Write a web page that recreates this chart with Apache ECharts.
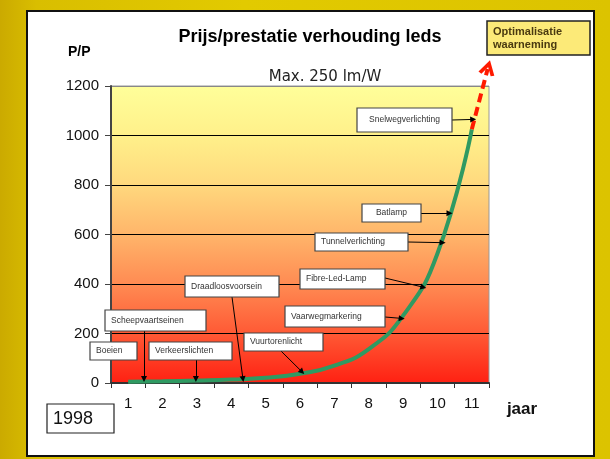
<!DOCTYPE html>
<html><head><meta charset="utf-8">
<script src="https://cdn.jsdelivr.net/npm/echarts@6/dist/echarts.min.js"></script>
<style>
html,body{margin:0;padding:0;}
#c{width:610px;height:459px;background:linear-gradient(to right,#CBAA00 0%,#D9BE00 6%,#E2CA00 40%,#DCC300 100%);}
</style>
</head><body><div id="c"></div>
<script>
// ---- data ----
const years = ['1','2','3','4','5','6','7','8','9','10','11'];
const curveX = [1,2,3,4,5,6,7,8,9,10,11];
const curveY = [5,7,10,14,21,37,70,137,272,523,1025];
const projX = [11, 11.46];
const projY = [1025, 1269];
const yMin = 0, yMax = 1200, yStep = 200;
const labelTexts = ['Snelwegverlichting','Batlamp','Tunnelverlichting','Fibre-Led-Lamp','Vaarwegmarkering','Vuurtorenlicht','Draadloosvoorsein','Scheepvaartseinen','Boeien','Verkeerslichten'];
const labelTargetX = [11.04, 10.35, 10.15, 9.59, 8.96, 6.06, 4.34, 1.46, null, 2.97];
const labelTargetY = [1065, 686, 567, 387, 261, 45, 16, 16, null, 16];

// ---- layout (pixels) ----
const boxLayout = [
  {x:357,y:108,w:95,h:24,center:true, ax:452,ay:120},
  {x:362,y:204,w:59,h:18,center:true, ax:421,ay:213},
  {x:315,y:233,w:93,h:18, ax:408,ay:242},
  {x:300,y:269,w:85,h:20, ax:385,ay:278},
  {x:285,y:306,w:100,h:21, ax:385,ay:317},
  {x:244,y:333,w:79,h:18, ax:280,ay:350},
  {x:185,y:276,w:94,h:21, ax:232,ay:297},
  {x:105,y:310,w:101,h:21, ax:144,ay:331},
  {x:90,y:342,w:47,h:18},
  {x:149,y:342,w:83,h:18, ax:196,ay:360}
];

const chart = echarts.init(document.getElementById('c'), null, {renderer:'canvas'});

const graphics = [];
graphics.push({type:'rect', z:-10, silent:true, shape:{x:27,y:11,width:567,height:445}, style:{fill:'#ffffff', stroke:'#111', lineWidth:2}});
graphics.push({type:'text', z:20, x:310, y:37, style:{text:'Prijs/prestatie verhouding leds', font:'bold 18px "Liberation Sans"', fill:'#000', align:'center', verticalAlign:'middle'}});
graphics.push({type:'text', z:20, x:68, y:52, style:{text:'P/P', font:'bold 14px "Liberation Sans"', fill:'#000', align:'left', verticalAlign:'middle'}});
graphics.push({type:'text', z:20, x:325, y:77, style:{text:'Max. 250 lm/W', font:'15px "DejaVu Sans"', fill:'#222', align:'center', verticalAlign:'middle'}});
graphics.push({type:'text', z:20, x:522, y:409, style:{text:'jaar', font:'bold 17px "Liberation Sans"', fill:'#111', align:'center', verticalAlign:'middle'}});
graphics.push({type:'rect', z:20, shape:{x:47,y:404,width:67,height:29}, style:{fill:'#fff', stroke:'#222', lineWidth:1.2}});
graphics.push({type:'text', z:21, x:53, y:419, style:{text:'1998', font:'18px "Liberation Sans"', fill:'#111', align:'left', verticalAlign:'middle'}});
graphics.push({type:'rect', z:20, shape:{x:487,y:21,width:103,height:34}, style:{fill:'#FCEA78', stroke:'#222', lineWidth:1.5}});
graphics.push({type:'text', z:21, x:493, y:32, style:{text:'Optimalisatie', font:'bold 11px "Liberation Sans"', fill:'#4A3A10', align:'left', verticalAlign:'middle'}});
graphics.push({type:'text', z:21, x:493, y:45, style:{text:'waarneming', font:'bold 11px "Liberation Sans"', fill:'#4A3A10', align:'left', verticalAlign:'middle'}});

const markData = [];
labelTexts.forEach((t,i)=>{
  const b = boxLayout[i];
  graphics.push({type:'rect', z:20, shape:{x:b.x,y:b.y,width:b.w,height:b.h}, style:{fill:'#fff', stroke:'#444', lineWidth:1.2}});
  graphics.push({type:'text', z:21, x: b.center ? b.x + b.w/2 : b.x + 6, y: b.y + b.h/2,
    style:{text:t, font:'8.5px "Liberation Sans"', fill:'#333', align: b.center?'center':'left', verticalAlign:'middle'}});
  if (labelTargetX[i] != null) {
    markData.push([{x:b.ax, y:b.ay}, {coord:[labelTargetX[i], labelTargetY[i]]}]);
  }
});

const option = {
  animation:false,
  grid:{left:111, right:121, top:86, bottom:76, show:true, borderColor:'#999', borderWidth:1,
    backgroundColor:{type:'linear', x:0, y:0, x2:0, y2:1, colorStops:[
      {offset:0, color:'#FFFF9A'},
      {offset:0.17, color:'#FFF08A'},
      {offset:0.33, color:'#FFD97E'},
      {offset:0.5, color:'#FFB56A'},
      {offset:0.67, color:'#FF8A52'},
      {offset:0.83, color:'#FF5A35'},
      {offset:1, color:'#FF2012'}]}},
  xAxis:[
    {type:'category', data:years, boundaryGap:true,
      axisLine:{lineStyle:{color:'#333', width:2}},
      axisTick:{show:true, length:5, lineStyle:{color:'#333'}},
      axisLabel:{fontSize:15, fontFamily:'Liberation Sans', color:'#111', margin:13},
      splitLine:{show:false}},
    {type:'value', min:0.5, max:11.5, show:false, splitLine:{show:false}}
  ],
  yAxis:{type:'value', min:yMin, max:yMax, interval:yStep,
    axisLine:{show:true, lineStyle:{color:'#444', width:2}},
    axisTick:{show:true, length:6, lineStyle:{color:'#444'}},
    axisLabel:{fontSize:15, fontFamily:'Liberation Sans', color:'#111', margin:12, formatter:(v)=>String(v)},
    splitLine:{show:true, lineStyle:{color:['#000','#000','#000','#000','#000','#000','#888'], width:1}}},
  series:[
    {type:'line', xAxisIndex:1, data:curveX.map((x,i)=>[x,curveY[i]]), smooth:0.5,
      symbol:'none', lineStyle:{color:'#2F9A62', width:4}, z:3, silent:true,
      markLine:{silent:true, animation:false, symbol:['none','triangle'], symbolSize:6,
        label:{show:false}, emphasis:{disabled:true},
        lineStyle:{color:'#000', width:1, type:'solid'}, data:markData}},
    {type:'line', xAxisIndex:1, data:projX.map((x,i)=>[x,projY[i]]), clip:false, silent:true,
      lineStyle:{color:'#FF1A00', width:4, type:[9,5]}, z:4,
      symbol:(v,p)=> p.dataIndex===1 ? 'path://M0,12L6,0L12,12' : 'none',
      symbolSize:[13,11], symbolRotate:-15, showSymbol:true,
      itemStyle:{color:'rgba(0,0,0,0)', borderColor:'#FF1A00', borderWidth:3.5}}
  ],
  graphic: graphics
};
chart.setOption(option);
</script>
</body></html>
